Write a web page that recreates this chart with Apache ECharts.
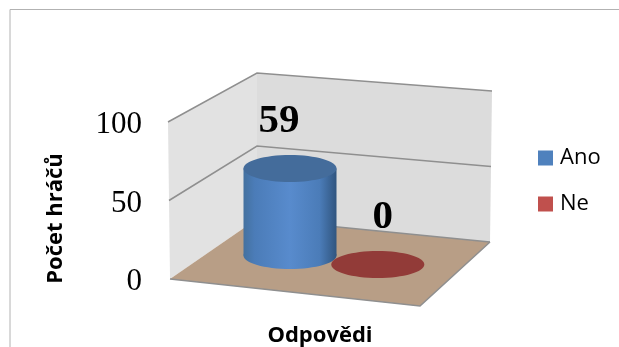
<!DOCTYPE html>
<html>
<head>
<meta charset="utf-8">
<style>html,body{margin:0;padding:0;background:#fff}#chart{width:619px;height:347px}</style>
<script src="https://cdn.jsdelivr.net/npm/echarts@6/dist/echarts.min.js"></script>
</head>
<body>
<div id="chart"></div>
<script>
// Survey answers and axis setup
const categories = ['Ano', 'Ne'];
const anoValues = [59];
const neValues = [0];
const valueTicks = [0, 50, 100];
const xTitle = 'Odpovědi';
const yTitle = 'Počet hráčů';

// Oblique box: floor corners and the pixel height of 100 units at each vertical edge
const BOX = {
  fl: [170, 279], fr: [420, 306], bl: [257, 219], br: [490, 242],
  hbl: 146, hbr: 151, leanFront: -2, leanBack: 2
};
const GRID = { left: 170, top: 122, width: 300, height: 157 };
const CYL = { rx: 46.5, ry: 13.5, depth: 0.52, centre: 0.492, spread: 0.728, squash: 0.94 };

const mix = (a, b, t) => [a[0] + (b[0] - a[0]) * t, a[1] + (b[1] - a[1]) * t];
const floorPoint = (u, d) => mix(mix(BOX.fl, BOX.fr, u), mix(BOX.bl, BOX.br, u), d);

// Share of the axis height taken by a value, read through the axis scale
function axisShare(api, v) {
  return (api.coord([0, 0])[1] - api.coord([0, v])[1]) / GRID.height;
}

function renderBox(params, api) {
  if (params.dataIndex !== 0) return null;
  const top = Math.max(...valueTicks);
  const s = axisShare(api, top);
  const frontTop = [BOX.fl[0] + BOX.leanFront, BOX.fl[1] - GRID.height * s];
  const backLeftTop = [BOX.bl[0], BOX.bl[1] - BOX.hbl * s];
  const backRightTop = [BOX.br[0] + BOX.leanBack, BOX.br[1] - BOX.hbr * s];
  const children = [
    { type: 'polygon', shape: { points: [BOX.fl, frontTop, backLeftTop, BOX.bl] }, style: { fill: '#e2e2e2' } },
    { type: 'polygon', shape: { points: [BOX.bl, backLeftTop, backRightTop, BOX.br] }, style: { fill: '#dcdcdc' } },
    { type: 'polygon', shape: { points: [BOX.fl, BOX.bl, BOX.br, BOX.fr] }, style: { fill: '#b89e86' } },
    { type: 'polyline', shape: { points: [BOX.fl, BOX.fr, BOX.br] }, style: { fill: 'none', stroke: '#8f8f8f', lineWidth: 1.5 } }
  ];
  valueTicks.forEach(function (v) {
    const k = axisShare(api, v);
    const a = [BOX.fl[0] + BOX.leanFront * k, BOX.fl[1] - GRID.height * k];
    const b = [BOX.bl[0], BOX.bl[1] - BOX.hbl * k];
    const c = [BOX.br[0] + BOX.leanBack * k, BOX.br[1] - BOX.hbr * k];
    children.push({ type: 'polyline', shape: { points: v === 0 ? [b, c] : [a, b, c] }, style: { fill: 'none', stroke: '#8f8f8f', lineWidth: 1.5 } });
  });
  return { type: 'group', children: children };
}

function cylinderRenderer(bodyStops, capColor) {
  return function (params, api) {
    const idx = api.value(0), val = api.value(1);
    const px = api.coord([idx, 0])[0];
    const u = CYL.centre + ((px - GRID.left) / GRID.width - 0.5) * CYL.spread;
    const base = floorPoint(u, CYL.depth);
    const h = axisShare(api, val) * GRID.height * CYL.squash;
    const cx = base[0], by = base[1], ty = by - h;
    const fill = new echarts.graphic.LinearGradient(0, 0, 1, 0, bodyStops);
    const children = [];
    if (h > 0) {
      children.push(
        { type: 'ellipse', shape: { cx: cx, cy: by, rx: CYL.rx, ry: CYL.ry }, style: { fill: fill } },
        { type: 'rect', shape: { x: cx - CYL.rx, y: ty, width: CYL.rx * 2, height: h }, style: { fill: fill } }
      );
    }
    children.push(
      { type: 'ellipse', shape: { cx: cx, cy: ty, rx: CYL.rx, ry: CYL.ry }, style: { fill: capColor } },
      { type: 'text', style: { x: cx + (h > 0 ? -11 : 5), y: ty - 47, text: String(val), fill: '#000', align: 'center', verticalAlign: 'middle', font: 'bold 41px "Liberation Serif"' } }
    );
    return { type: 'group', children: children };
  };
}

const chart = echarts.init(document.getElementById('chart'), null, { renderer: 'canvas' });
chart.setOption({
  animation: false,
  backgroundColor: '#fff',
  grid: { left: GRID.left, top: GRID.top, width: GRID.width, height: GRID.height, outerBoundsMode: 'none' },
  legend: {
    data: categories,
    orient: 'vertical',
    left: 538,
    top: 147,
    padding: 0,
    itemWidth: 15,
    itemHeight: 15,
    itemGap: 24,
    icon: 'rect',
    selectedMode: false,
    textStyle: { fontFamily: '"Open Sans"', fontSize: 22, color: '#000', padding: [0, 0, 0, 2] }
  },
  xAxis: {
    type: 'category',
    data: categories,
    name: xTitle,
    nameLocation: 'middle',
    nameGap: 46,
    nameTextStyle: { fontFamily: '"Open Sans"', fontWeight: 'bold', fontSize: 22, color: '#000' },
    axisLine: { show: false },
    axisTick: { show: false },
    axisLabel: { show: false }
  },
  yAxis: {
    type: 'value',
    min: 0,
    max: 100,
    interval: 50,
    name: yTitle,
    nameLocation: 'middle',
    nameGap: 103,
    nameTextStyle: { fontFamily: '"Open Sans"', fontWeight: 'bold', fontSize: 22, color: '#000', padding: [0, 36, 0, 0] },
    axisLine: { show: false },
    axisTick: { show: false },
    splitLine: { show: false },
    axisLabel: {
      margin: 28,
      formatter: '{tick|{value}}',
      rich: { tick: { fontFamily: '"Liberation Serif"', fontSize: 31, color: '#000', padding: [6, 0, 0, 0] } }
    }
  },
  graphic: [{
    type: 'rect',
    silent: true,
    z: -1,
    shape: { x: 10, y: 9.5, width: 700, height: 400 },
    style: { fill: 'none', stroke: '#b2b2b2', lineWidth: 1 }
  }],
  series: [
    {
      type: 'custom', name: 'box', silent: true, clip: false, z: 1,
      data: [[0, Math.max(...valueTicks)]],
      encode: { x: 0, y: 1 },
      renderItem: renderBox
    },
    {
      type: 'custom', name: categories[0], silent: true, clip: false, z: 2,
      itemStyle: { color: '#4f81bd' },
      data: anoValues.map(v => [0, v]),
      encode: { x: 0, y: 1 },
      renderItem: cylinderRenderer([
        { offset: 0, color: '#44719f' },
        { offset: 0.12, color: '#4b7cb8' },
        { offset: 0.5, color: '#588bcd' },
        { offset: 0.82, color: '#4b7cb8' },
        { offset: 1, color: '#30557f' }
      ], '#446c9b')
    },
    {
      type: 'custom', name: categories[1], silent: true, clip: false, z: 2,
      itemStyle: { color: '#c0504d' },
      data: neValues.map(v => [1, v]),
      encode: { x: 0, y: 1 },
      renderItem: cylinderRenderer([
        { offset: 0, color: '#923b38' },
        { offset: 1, color: '#923b38' }
      ], '#923b38')
    }
  ]
});
</script>
</body>
</html>
